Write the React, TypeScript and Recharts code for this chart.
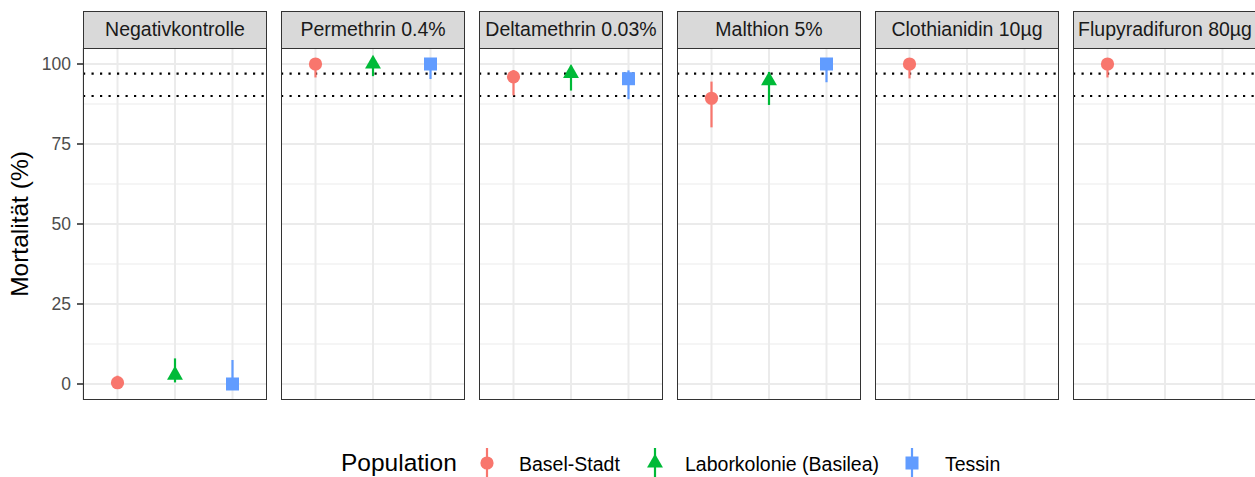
import {
  CartesianGrid,
  ErrorBar,
  ReferenceLine,
  Scatter,
  ScatterChart,
  XAxis,
  YAxis,
} from "recharts";

const TREATMENTS = [
  "Negativkontrolle",
  "Permethrin 0.4%",
  "Deltamethrin 0.03%",
  "Malthion 5%",
  "Clothianidin 10µg",
  "Flupyradifuron 80µg",
];

const POPULATIONS = ["Basel-Stadt", "Laborkolonie (Basilea)", "Tessin"];
const COLORS = ["#F8766D", "#00BA38", "#619CFF"];
const SHAPES = ["circle", "triangle", "square"];

// mortality (%) per treatment, null = not tested
const BASEL_MEAN = [0.4, 100, 96, 89.3, 100, 100];
const BASEL_LOW = [0, 95.8, 90.2, 80.2, 95.5, 95.8];
const BASEL_HIGH = [2.6, 100, 98.1, 94.5, 100, 100];

const LABOR_MEAN = [2.8, 100, 97.1, 94.8, null, null];
const LABOR_LOW = [0.5, 96.2, 91.7, 87.2, null, null];
const LABOR_HIGH = [8.0, 100, 99.5, 97.5, null, null];

const TESSIN_MEAN = [0, 100, 95.4, 100, null, null];
const TESSIN_LOW = [0, 95.3, 89, 94.3, null, null];
const TESSIN_HIGH = [7.5, 100, 98, 100, null, null];

const MEANS = [BASEL_MEAN, LABOR_MEAN, TESSIN_MEAN];
const LOWS = [BASEL_LOW, LABOR_LOW, TESSIN_LOW];
const HIGHS = [BASEL_HIGH, LABOR_HIGH, TESSIN_HIGH];

const Y_TICKS = [0, 25, 50, 75, 100];
const Y_MINOR = [12.5, 37.5, 62.5, 87.5];
const THRESHOLDS = [97, 90];

const PANEL_W = 184;
const PANEL_H = 352;
const PANEL_TOP = 48;
const FIRST_LEFT = 83;
const PITCH = 198;
const AXIS_W = 83;

const FONT = "'Liberation Sans', Arial, sans-serif";

function Marker({ cx, cy, kind, fill }: any) {
  if (cx == null || cy == null) return null;
  if (kind === "triangle") {
    const r = 9.2;
    const h = r * 0.866;
    return (
      <polygon
        points={`${cx},${cy - r} ${cx + h},${cy + r / 2} ${cx - h},${cy + r / 2}`}
        fill={fill}
      />
    );
  }
  if (kind === "square") {
    return <rect x={cx - 6.5} y={cy - 6.5} width={13} height={13} fill={fill} />;
  }
  return <circle cx={cx} cy={cy} r={6.6} fill={fill} />;
}

function seriesData(t: number, p: number) {
  const m = MEANS[p][t];
  if (m == null) return [];
  const lo = LOWS[p][t] as number;
  const hi = HIGHS[p][t] as number;
  return [{ x: p + 1, y: m, err: [m - lo, hi - m] }];
}

function Panel({ t }: { t: number }) {
  const first = t === 0;
  const left = FIRST_LEFT + PITCH * t;
  const chartW = first ? PANEL_W + AXIS_W : PANEL_W;
  return (
    <>
      <div
        style={{
          position: "absolute",
          left,
          top: 11,
          width: PANEL_W,
          height: 38,
          boxSizing: "border-box",
          background: "#D9D9D9",
          border: "1.5px solid #333333",
          color: "#1A1A1A",
          fontSize: 19.5,
          lineHeight: "35px",
          textAlign: "center",
          whiteSpace: "nowrap",
        }}
      >
        {TREATMENTS[t]}
      </div>
      <div
        style={{
          position: "absolute",
          left: first ? 0 : left,
          top: PANEL_TOP,
        }}
      >
        <ScatterChart
          width={chartW}
          height={PANEL_H}
          margin={{ top: 0, right: 0, bottom: 0, left: 0 }}
        >
          <CartesianGrid stroke="#EBEBEB" strokeWidth={2} />
          <XAxis
            type="number"
            dataKey="x"
            domain={[0.4, 3.6]}
            ticks={[1, 2, 3]}
            allowDataOverflow
            hide
          />
          <YAxis
            type="number"
            dataKey="y"
            domain={[-5, 105]}
            ticks={Y_TICKS}
            allowDataOverflow
            hide={!first}
            width={AXIS_W}
            axisLine={false}
            tickSize={6}
            tickMargin={6}
            tickLine={{ stroke: "#333333", strokeWidth: 1.6 }}
            tick={{ fill: "#4D4D4D", fontSize: 17.5 }}
          />
          {Y_MINOR.map((v) => (
            <ReferenceLine key={v} y={v} stroke="#EBEBEB" strokeWidth={1} />
          ))}
          {THRESHOLDS.map((v) => (
            <ReferenceLine
              key={v}
              y={v}
              stroke="#000000"
              strokeWidth={2.2}
              strokeDasharray="2.2 6.3"
            />
          ))}
          {POPULATIONS.map((p, i) => (
            <Scatter
              key={p}
              name={p}
              data={seriesData(t, i)}
              fill={COLORS[i]}
              isAnimationActive={false}
              shape={(props: any) => (
                <Marker cx={props.cx} cy={props.cy} kind={SHAPES[i]} fill={COLORS[i]} />
              )}
            >
              <ErrorBar
                dataKey="err"
                direction="y"
                width={0}
                stroke={COLORS[i]}
                strokeWidth={2.2}
                isAnimationActive={false}
              />
            </Scatter>
          ))}
        </ScatterChart>
      </div>
      <div
        style={{
          position: "absolute",
          left,
          top: PANEL_TOP,
          width: PANEL_W,
          height: PANEL_H,
          boxSizing: "border-box",
          border: "1.5px solid #333333",
          pointerEvents: "none",
        }}
      />
    </>
  );
}

const LEGEND_KEYS = [487, 655, 912];
const LEGEND_LABELS = [519, 685, 945];

function LegendGlyph({ i }: { i: number }) {
  return (
    <svg
      width={24}
      height={30}
      style={{ position: "absolute", left: LEGEND_KEYS[i] - 12, top: 448 }}
    >
      <line x1={12} x2={12} y1={0} y2={30} stroke={COLORS[i]} strokeWidth={2.2} />
      <Marker cx={12} cy={15} kind={SHAPES[i]} fill={COLORS[i]} />
    </svg>
  );
}

export default function App() {
  return (
    <div
      style={{
        position: "absolute",
        left: 0,
        top: 0,
        width: 1255,
        height: 477,
        overflow: "hidden",
        background: "#FFFFFF",
        fontFamily: FONT,
      }}
    >
      <div
        style={{
          position: "absolute",
          left: 20,
          top: 224,
          transform: "translate(-50%, -50%) rotate(-90deg)",
          fontSize: 24.5,
          whiteSpace: "nowrap",
          color: "#000000",
        }}
      >
        Mortalität (%)
      </div>
      {TREATMENTS.map((_, t) => (
        <Panel key={t} t={t} />
      ))}
      <div
        style={{
          position: "absolute",
          left: 341,
          top: 448,
          lineHeight: "30px",
          fontSize: 24.5,
          color: "#000000",
        }}
      >
        Population
      </div>
      {POPULATIONS.map((p, i) => (
        <div key={p}>
          <LegendGlyph i={i} />
          <div
            style={{
              position: "absolute",
              left: LEGEND_LABELS[i],
              top: 449,
              lineHeight: "30px",
              fontSize: 19.5,
              color: "#000000",
              whiteSpace: "nowrap",
            }}
          >
            {p}
          </div>
        </div>
      ))}
    </div>
  );
}
